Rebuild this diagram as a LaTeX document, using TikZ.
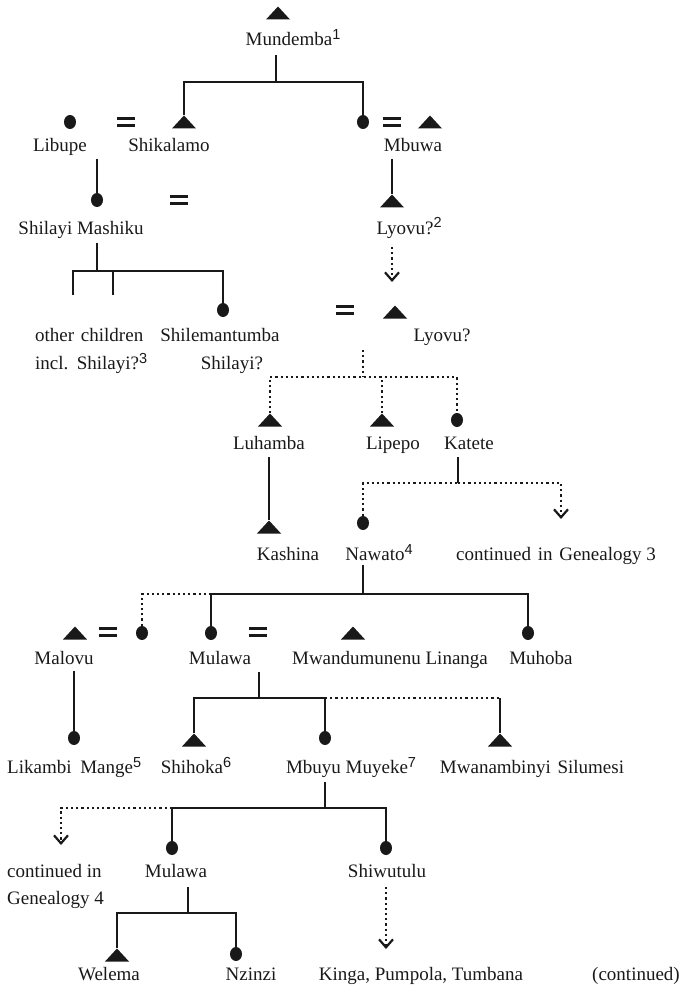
\documentclass[tikz,border=0pt]{standalone}
\usepackage{fontspec}
\setmainfont{Liberation Serif}
\newfontfamily\supfont{Liberation Sans}
\usetikzlibrary{shapes.geometric,arrows.meta}
\newcommand\lbfont{\fontsize{19}{22}\selectfont}
\newcommand\supnum[1]{\raisebox{6pt}{\supfont\fontsize{14.5}{14}\selectfont #1}}
\begin{document}
\begin{tikzpicture}[x=1pt,y=-1pt,
  lbl/.style={font=\lbfont, inner sep=0pt, text height=12pt, text depth=4pt, text=black!90},
  lblw/.style={lbl, anchor=west},
  tribox/.style={minimum width=24pt, minimum height=13pt, inner sep=0pt,
    path picture={\fill[black!90] (path picture bounding box.south west) -- (path picture bounding box.south east) -- (path picture bounding box.north) -- cycle;}},
  dotf/.style={ellipse, fill=black!90, minimum width=12pt, minimum height=14pt, inner sep=0pt},
  eqsign/.style={minimum width=18pt, minimum height=10pt, inner sep=0pt,
    path picture={\draw[line width=2.8pt, black!90]
      ([yshift=-1.4pt]path picture bounding box.north west) -- ([yshift=-1.4pt]path picture bounding box.north east)
      ([yshift=1.4pt]path picture bounding box.south west) -- ([yshift=1.4pt]path picture bounding box.south east);}},
  kin/.style={line width=2.8pt, draw=black!90},
  dotl/.style={line width=2.5pt, draw=black!90, dash pattern=on 2.2pt off 3pt},
  arr/.style={-{Straight Barb[length=8pt,width=14pt,line width=2.2pt]}}
]
\useasboundingbox (0,0) rectangle (683,992);

% generation 0
\node[tribox] (mund) at (278,13) {};
\node[lbl] (mundL) at (289,42) {Mundemba\rlap{\supnum{1}}};
% generation 1
\node[dotf] (libupe) at (70,122) {};
\node[eqsign] (eqA) at (126,122) {};
\node[tribox] (shik) at (184,122) {};
\node[dotf] (mbuwaW) at (363,122) {};
\node[eqsign] (eqB) at (392,122) {};
\node[tribox] (mbuwa) at (430,122) {};
\node[lbl] (libupeL) at (60,148) {Libupe};
\node[lbl] (shikL) at (169,148) {Shikalamo};
\node[lbl] (mbuwaL) at (413,148) {Mbuwa};
% generation 2
\node[dotf] (shilayi) at (97,200) {};
\node[eqsign] (eqC) at (179,200) {};
\node[tribox] (lyovuA) at (392,201) {};
\node[lbl] (shilayiL) at (81,230) {Shilayi Mashiku};
\node[lbl] (lyovuAL) at (405,230) {Lyovu?\rlap{\supnum{2}}};
% generation 3
\node[dotf] (shilem) at (223,310) {};
\node[eqsign] (eqD) at (345,310) {};
\node[tribox] (lyovuB) at (395,312) {};
\node[lblw] (othL) at (35,337) {other\hspace{2pt} children};
\node[lblw] (inclL) at (35,365) {incl.\hspace{2pt} Shilayi?\supnum{3}};
\node[lbl] (shilemL) at (220,337) {Shilemantumba};
\node[lbl] (shilem2L) at (232,365) {Shilayi?};
\node[lbl] (lyovuBL) at (442,337) {Lyovu?};
% generation 4
\node[tribox] (luhamba) at (270,420) {};
\node[tribox] (lipepo) at (382,420) {};
\node[dotf] (katete) at (457,420) {};
\node[lbl] (luhambaL) at (269,445) {Luhamba};
\node[lbl] (lipepoL) at (393,445) {Lipepo};
\node[lbl] (kateteL) at (469,445) {Katete};
% generation 5
\node[tribox] (kashina) at (269,527) {};
\node[dotf] (nawato) at (363,523) {};
\coordinate (cont3) at (561,519);
\node[lbl] (kashinaL) at (288,556) {Kashina};
\node[lbl] (nawatoL) at (375,556) {Nawato\rlap{\supnum{4}}};
\node[lbl] (cont3L) at (556,556) {continued\hspace{2pt} in\hspace{2pt} Genealogy 3};
% generation 6
\node[tribox] (malovu) at (75,633) {};
\node[eqsign] (eqE) at (108,632) {};
\node[dotf] (wife) at (142,633) {};
\node[dotf] (mulawa) at (211,633) {};
\node[eqsign] (eqF) at (258,632) {};
\node[tribox] (mwandu) at (353,633) {};
\node[dotf] (muhoba) at (528,633) {};
\node[lbl] (malovuL) at (64,660) {Malovu};
\node[lbl] (mulawaL) at (220,660) {Mulawa};
\node[lbl] (mwanduL) at (390,660) {Mwandumunenu Linanga};
\node[lbl] (muhobaL) at (541,660) {Muhoba};
% generation 7
\node[dotf] (likambi) at (74,738) {};
\node[tribox] (shihoka) at (194,740) {};
\node[dotf] (mbuyu) at (325,738) {};
\node[tribox] (mwanam) at (500,740) {};
\node[lblw] (likambiL) at (7,769) {Likambi\hspace{4pt} Mange\supnum{5}};
\node[lbl] (shihokaL) at (192,769) {Shihoka\rlap{\supnum{6}}};
\node[lbl] (mbuyuL) at (347,769) {Mbuyu Muyeke\rlap{\supnum{7}}};
\node[lbl] (mwanamL) at (532,769) {Mwanambinyi\hspace{2pt} Silumesi};
% generation 8
\coordinate (cont4) at (61,845);
\node[dotf] (mulawaB) at (172,848) {};
\node[dotf] (shiwu) at (386,848) {};
\node[lblw] (cont4L) at (7,873) {continued in};
\node[lblw] (cont4bL) at (7,900) {Genealogy 4};
\node[lbl] (mulawaBL) at (176,873) {Mulawa};
\node[lbl] (shiwuL) at (387,873) {Shiwutulu};
% generation 9
\node[tribox] (welema) at (117,955) {};
\node[dotf] (nzinzi) at (236,954) {};
\coordinate (kingaT) at (386,949);
\node[lbl] (welemaL) at (109,976) {Welema};
\node[lbl] (nzinziL) at (251,976) {Nzinzi};
\node[lbl] (kingaL) at (421,976) {Kinga, Pumpola, Tumbana};
\node[lbl] (contL) at (636,976) {(continued)};

% connectors
\coordinate (jAt) at (276,55); \coordinate (jA) at (276,82);
\draw[kin] (jAt) -- (jA);
\draw[kin] (shik.north) |- (jA) -| (mbuwaW.north);

\coordinate (jBt) at (97,159);
\draw[kin] (jBt) -- (shilayi.north);
\coordinate (jCt) at (392,159);
\draw[kin] (jCt) -- (lyovuA.north);
\coordinate (jDt) at (392,247); \coordinate (jDe) at (392,282);
\draw[dotl,arr] (jDt) -- (jDe);

\coordinate (jEt) at (97,243); \coordinate (jE) at (97,271);
\coordinate (oc1) at (73,295); \coordinate (oc2) at (113,295);
\draw[kin] (jEt) -- (jE);
\draw[kin] (oc1) |- (jE) -| (shilem.north);
\draw[kin] (oc2) -- (oc2 |- jE);

\coordinate (jFt) at (363,350); \coordinate (jF) at (363,377);
\draw[dotl] (jFt) -- (jF);
\draw[dotl] (luhamba.north) |- (jF) -| (katete.north);
\draw[dotl] (lipepo.north) -- (lipepo.north |- jF);

\coordinate (jGt) at (269,457);
\draw[kin] (jGt) -- (kashina.north);

\coordinate (jHt) at (458,457); \coordinate (jH) at (458,483);
\draw[kin] (jHt) -- (jH);
\draw[dotl] (nawato.north) |- (jH);
\draw[dotl,arr] (jH) -| (cont3);

\coordinate (jIt) at (363,565); \coordinate (jI) at (363,594);
\draw[kin] (jIt) -- (jI);
\draw[kin] (mulawa.north) |- (jI) -| (muhoba.north);
\draw[dotl] (wife.north) |- (mulawa.north |- jI);

\coordinate (jJt) at (74,671);
\draw[kin] (jJt) -- (likambi.north);

\coordinate (jKt) at (259,672); \coordinate (jK) at (259,698);
\draw[kin] (jKt) -- (jK);
\draw[kin] (shihoka.north) |- (mbuyu.north |- jK) -- (mbuyu.north);
\draw[dotl] (mbuyu.north |- jK) -- (mwanam.north |- jK);
\draw[kin] (mwanam.north |- jK) -- (mwanam.north);

\coordinate (jLt) at (325,782); \coordinate (jL) at (325,808);
\draw[kin] (jLt) -- (jL);
\draw[kin] (mulawaB.north) |- (jL) -| (shiwu.north);
\draw[dotl,arr] (mulawaB.north |- jL) -| (cont4);

\coordinate (jMt) at (188,887); \coordinate (jM) at (188,913);
\draw[kin] (jMt) -- (jM);
\draw[kin] (welema.north) |- (jM) -| (nzinzi.north);

\coordinate (jNt) at (386,887);
\draw[dotl,arr] (jNt) -- (kingaT);
\end{tikzpicture}
\end{document}
